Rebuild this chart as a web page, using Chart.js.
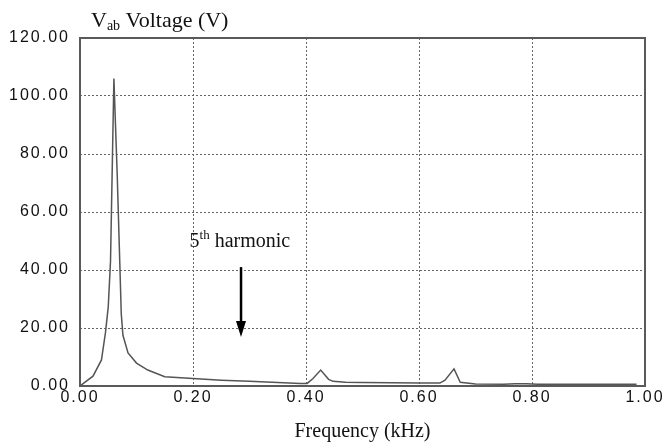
<!DOCTYPE html>
<html>
<head>
<meta charset="utf-8">
<script src="https://cdn.jsdelivr.net/npm/chart.js@4/dist/chart.umd.min.js"></script>
<style>
  html, body { margin: 0; padding: 0; background: #fff; }
</style>
</head>
<body>
<canvas id="spectrum" width="665" height="444"></canvas>
<script>
// Spectrum of Vab
const freqKHz = [0, 0.023, 0.038, 0.045, 0.05, 0.054, 0.06, 0.066, 0.0705, 0.073, 0.076, 0.085, 0.1, 0.12, 0.15,
  0.2, 0.25, 0.3, 0.35, 0.39, 0.402, 0.412, 0.426, 0.44, 0.448, 0.47, 0.5, 0.55, 0.6, 0.637, 0.646, 0.662,
  0.673, 0.7, 0.75, 0.77, 0.79, 0.81, 0.9, 0.985];
const voltage = [0, 3.4, 9, 18.3, 27.3, 43, 106, 72, 42, 25, 17.5, 11.4, 7.9, 5.5, 3.2,
  2.6, 2.0, 1.6, 1.2, 0.9, 0.9, 2.5, 5.5, 2.3, 1.6, 1.3, 1.2, 1.1, 1.0, 1.0, 2.0, 5.9,
  1.3, 0.7, 0.6, 0.8, 0.8, 0.6, 0.6, 0.6];

// Axis ticks
const xTickValues = [0, 0.2, 0.4, 0.6, 0.8, 1.0];
const yTickValues = [0, 20, 40, 60, 80, 100, 120];

// Texts
const titleMain = "V";
const titleSub = "ab";
const titleRest = " Voltage (V)";
const xAxisTitle = "Frequency (kHz)";
const noteNum = "5";
const noteSup = "th";
const noteRest = " harmonic";

// Annotation anchor points (data units)
const noteAt = { x: 0.194, y: 47.9 };
const arrowFrom = { x: 0.285, y: 41 };
const arrowTo = { x: 0.285, y: 16.9 };

/**********************************************************/
/*      Frame around the plot area + letter spacing       */
/**********************************************************/
const framePlugin = {
  id: "frame",
  beforeDraw(chart) {
    chart.ctx.letterSpacing = "2px"; // tick labels in the picture are wide
  },
  beforeDatasetsDraw(chart) {
    const { ctx, chartArea: a } = chart;
    ctx.save();
    ctx.strokeStyle = "#5a5a5a";
    ctx.lineWidth = 2;
    ctx.strokeRect(a.left, a.top, a.right - a.left, a.bottom - a.top);
    ctx.restore();
  }
};

/**********************************************************/
/*          Titles, "5th harmonic" note and arrow         */
/**********************************************************/
const textPlugin = {
  id: "texts",
  afterDraw(chart) {
    const { ctx, chartArea: a } = chart;
    const xs = chart.scales.x, ys = chart.scales.y;
    ctx.save();
    ctx.letterSpacing = "0px";
    ctx.fillStyle = "#111";
    ctx.textBaseline = "alphabetic";
    ctx.textAlign = "left";

    // Chart title with subscript
    let x = a.left + 11, y = 27;
    ctx.font = "22px 'Liberation Serif'";
    ctx.fillText(titleMain, x, y);
    x += ctx.measureText(titleMain).width;
    ctx.font = "14px 'Liberation Serif'";
    ctx.fillText(titleSub, x, y + 3);
    x += ctx.measureText(titleSub).width;
    ctx.font = "22px 'Liberation Serif'";
    ctx.fillText(titleRest, x, y);

    // X axis title
    ctx.font = "20px 'Liberation Serif'";
    ctx.textAlign = "center";
    ctx.fillText(xAxisTitle, (a.left + a.right) / 2, 437);
    ctx.textAlign = "left";

    // Note with superscript
    x = xs.getPixelForValue(noteAt.x);
    y = ys.getPixelForValue(noteAt.y);
    ctx.font = "20px 'Liberation Serif'";
    ctx.fillText(noteNum, x, y);
    x += ctx.measureText(noteNum).width;
    ctx.font = "13px 'Liberation Serif'";
    ctx.fillText(noteSup, x, y - 8);
    x += ctx.measureText(noteSup).width;
    ctx.font = "20px 'Liberation Serif'";
    ctx.fillText(noteRest, x, y);

    // Arrow
    const ax = xs.getPixelForValue(arrowFrom.x);
    const ay1 = ys.getPixelForValue(arrowFrom.y);
    const ay2 = ys.getPixelForValue(arrowTo.y);
    ctx.strokeStyle = "#000";
    ctx.lineWidth = 2.5;
    ctx.beginPath();
    ctx.moveTo(ax, ay1);
    ctx.lineTo(ax, ay2 - 12);
    ctx.stroke();
    ctx.fillStyle = "#000";
    ctx.beginPath();
    ctx.moveTo(ax - 5, ay2 - 16);
    ctx.lineTo(ax + 5, ay2 - 16);
    ctx.lineTo(ax, ay2);
    ctx.closePath();
    ctx.fill();
    ctx.restore();
  }
};

const tickFont = { family: "'Liberation Sans', Arial", size: 16 };

var chart = new Chart(document.getElementById("spectrum"), {
  type: "scatter",
  data: {
    datasets: [{
      data: freqKHz.map((f, i) => ({ x: f, y: voltage[i] })),
      showLine: true,
      borderColor: "#555",
      borderWidth: 1.5,
      pointRadius: 0,
      tension: 0
    }]
  },
  options: {
    responsive: false,
    animation: false,
    devicePixelRatio: 1,
    layout: { padding: { left: 0, right: 20, top: 38, bottom: 0 } },
    plugins: {
      legend: { display: false },
      tooltip: { enabled: false }
    },
    scales: {
      x: {
        type: "linear",
        min: 0,
        max: 1,
        afterBuildTicks: s => { s.ticks = xTickValues.map(v => ({ value: v })); },
        afterFit: s => { s.height = 58; s.paddingLeft = 0; s.paddingRight = 0; },
        grid: { color: "#666", lineWidth: 1, drawTicks: false },
        border: { display: false, dash: [2, 2] },
        ticks: {
          font: tickFont,
          color: "#111",
          padding: 2,
          maxRotation: 0,
          autoSkip: false,
          callback: v => v.toFixed(2)
        }
      },
      y: {
        min: 0,
        max: 120,
        afterBuildTicks: s => { s.ticks = yTickValues.map(v => ({ value: v })); },
        afterFit: s => { s.width = 80; s.paddingTop = 0; s.paddingBottom = 0; },
        grid: { color: "#666", lineWidth: 1, drawTicks: false },
        border: { display: false, dash: [2, 2] },
        ticks: {
          font: tickFont,
          color: "#111",
          padding: 10,
          autoSkip: false,
          callback: v => v.toFixed(2)
        }
      }
    }
  },
  plugins: [framePlugin, textPlugin]
});
</script>
</body>
</html>
